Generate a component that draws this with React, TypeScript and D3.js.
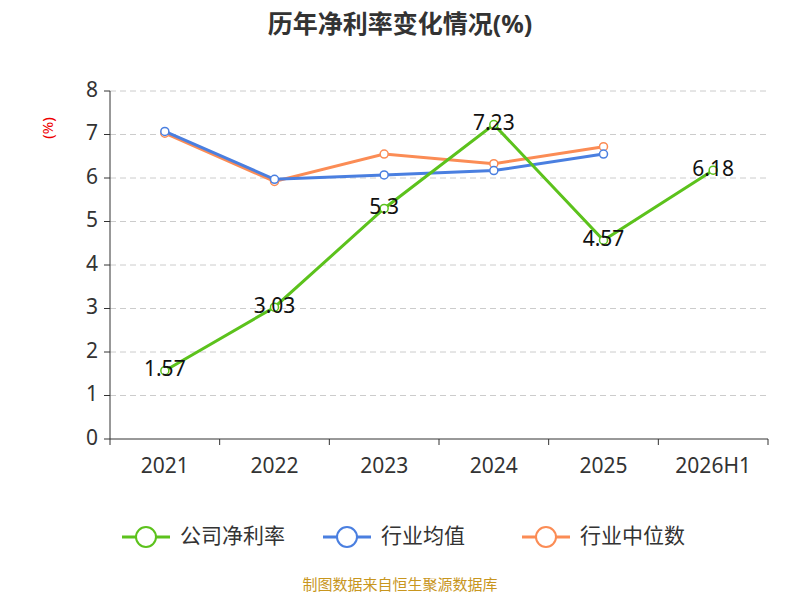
import * as d3 from 'd3';

const categories = ['2021', '2022', '2023', '2024', '2025', '2026H1'];
const companyRate = [1.57, 3.03, 5.3, 7.23, 4.57, 6.18];
const industryAvg = [7.07, 5.97, 6.07, 6.17, 6.55];
const industryMedian = [7.03, 5.92, 6.55, 6.33, 6.72];
const yTicks = [0, 1, 2, 3, 4, 5, 6, 7, 8];

const series = [
  { name: '公司净利率', color: '#5cc21c', values: companyRate },
  { name: '行业均值', color: '#4a7fe0', values: industryAvg },
  { name: '行业中位数', color: '#fb8c55', values: industryMedian },
];

export default function App() {
  const left = 110, right = 768, top = 91, bottom = 439;
  const x = d3.scaleBand().domain(categories).range([left, right]);
  const y = d3.scaleLinear().domain([0, 8]).range([bottom, top]);
  const cx = (i: number) => (x(categories[i]) as number) + x.bandwidth() / 2;
  const line = d3.line<number>().x((_, i) => cx(i)).y(d => y(d));
  const font = '"Noto Sans", "Noto Sans CJK SC", sans-serif';

  return (
    <svg width={800} height={600} style={{ position: 'absolute', left: 0, top: 0, fontFamily: font }}>
      <rect width={800} height={600} fill="#fff" />
      <text x={400} y={33} textAnchor="middle" fontSize={25} fontWeight="bold" fill="#333">历年净利率变化情况(%)</text>
      <text x={49} y={128} fill="#e00" fontSize={15} textAnchor="middle" transform="rotate(-90,49,128)" dominantBaseline="middle">(%)</text>
      {yTicks.map(t => (
        <g key={t}>
          {t > 0 && <line x1={left} x2={right} y1={y(t)} y2={y(t)} stroke="#ccc" strokeDasharray="6,4" />}
          <line x1={left - 6} x2={left} y1={y(t)} y2={y(t)} stroke="#333" />
          <text x={left - 12} y={y(t)} textAnchor="end" dominantBaseline="middle" fontSize={21} fill="#333">{t}</text>
        </g>
      ))}
      <line x1={left} x2={left} y1={top} y2={bottom} stroke="#333" />
      <line x1={left} x2={right} y1={bottom} y2={bottom} stroke="#333" />
      {categories.map((c, i) => (
        <g key={c}>
          <line x1={(x(c) as number)} x2={(x(c) as number)} y1={bottom} y2={bottom + 6} stroke="#333" />
          <text x={cx(i)} y={bottom + 34} textAnchor="middle" fontSize={21} fill="#333">{c}</text>
        </g>
      ))}
      <line x1={right} x2={right} y1={bottom} y2={bottom + 6} stroke="#333" />
      {[...series].reverse().map(s => (
        <g key={s.name}>
          <path d={line(s.values) as string} fill="none" stroke={s.color} strokeWidth={3} />
          {s.values.map((v, i) => (
            <circle key={i} cx={cx(i)} cy={y(v)} r={4} fill="#fff" stroke={s.color} strokeWidth={1.5} />
          ))}
        </g>
      ))}
      {companyRate.map((v, i) => (
        <text key={i} x={cx(i)} y={y(v)} textAnchor="middle" dominantBaseline="middle" fontSize={21} fill="#111">{v}</text>
      ))}
      {series.map((s, i) => {
        const lx = [122, 323, 522][i];
        return (
          <g key={s.name}>
            <line x1={lx} x2={lx + 48} y1={537} y2={537} stroke={s.color} strokeWidth={3} />
            <circle cx={lx + 24} cy={537} r={10} fill="#fff" stroke={s.color} strokeWidth={2} />
            <text x={lx + 58} y={537} dominantBaseline="middle" fontSize={21} fill="#333">{s.name}</text>
          </g>
        );
      })}
      <text x={400} y={590} textAnchor="middle" fontSize={15} fill="#c8961e">制图数据来自恒生聚源数据库</text>
    </svg>
  );
}
